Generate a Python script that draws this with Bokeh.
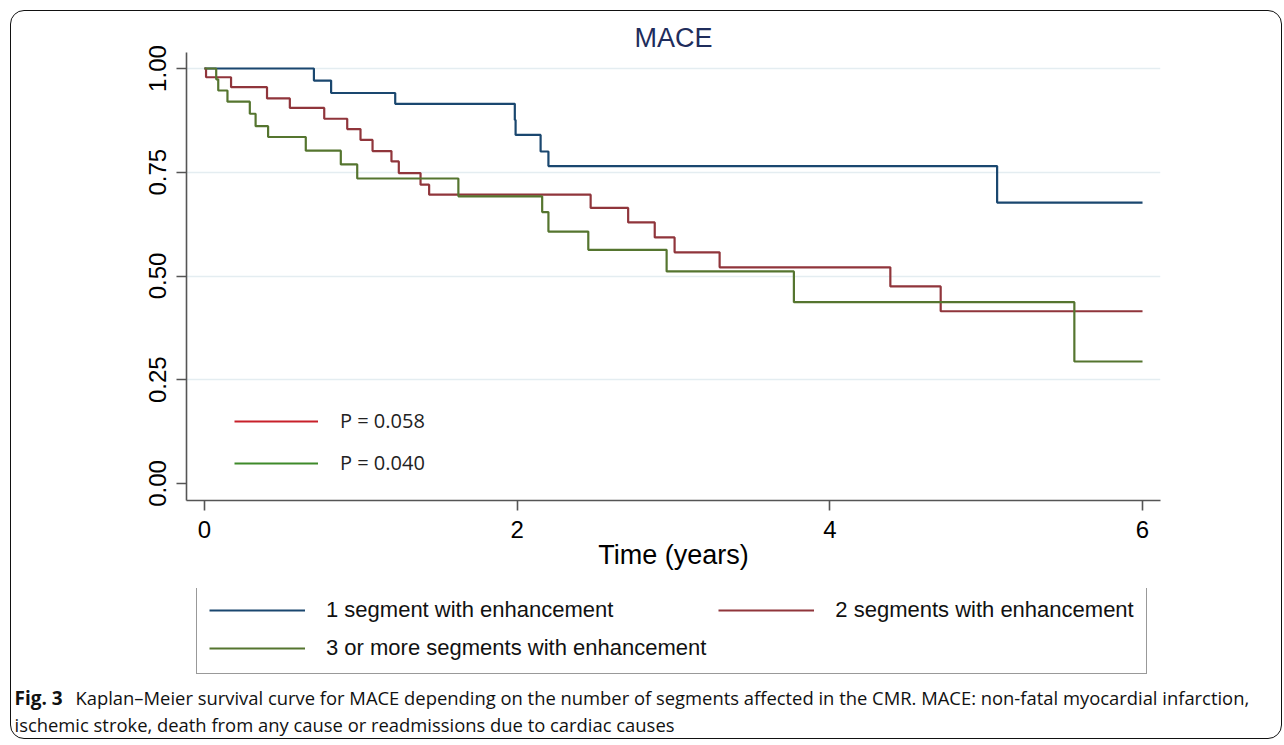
from bokeh.plotting import figure
from bokeh.layouts import column
from bokeh.models import (Legend, LegendItem, Label, FixedTicker,
                          NumeralTickFormatter, Range1d, ColumnDataSource)
from bokeh.embed import file_html
from bokeh.resources import INLINE

# ---- data ----
t_one = [0, 0.70, 0.81, 1.22, 1.985, 1.99, 2.15, 2.20, 5.07, 6.00]
s_one = [1.0, 0.971, 0.941, 0.915, 0.876, 0.840, 0.800, 0.765, 0.677, 0.677]

t_two = [0, 0.01, 0.17, 0.40, 0.546, 0.766, 0.913, 0.998, 1.075, 1.196, 1.243,
         1.382, 1.437, 2.47, 2.71, 2.88, 3.007, 3.295, 4.387, 4.709, 6.0]
s_two = [1.0, 0.979, 0.955, 0.928, 0.905, 0.879, 0.854, 0.828, 0.801, 0.776, 0.748,
         0.720, 0.696, 0.664, 0.629, 0.593, 0.557, 0.521, 0.475, 0.415, 0.415]

t_three = [0, 0.075, 0.088, 0.147, 0.29, 0.327, 0.407, 0.648, 0.872, 0.977, 1.624,
           2.16, 2.20, 2.455, 2.956, 3.77, 5.564, 6.0]
s_three = [1.0, 0.974, 0.947, 0.920, 0.891, 0.861, 0.835, 0.802, 0.769, 0.735, 0.692,
           0.654, 0.607, 0.563, 0.511, 0.437, 0.294, 0.294]

series_labels = ["1 segment with enhancement", "2 segments with enhancement",
                 "3 or more segments with enhancement"]
p_labels = ["P = 0.058", "P = 0.040"]
x_ticks = [0, 2, 4, 6]
y_ticks = [0, 0.25, 0.5, 0.75, 1.0]
title_text = "MACE"
x_title = "Time (years)"
caption_bold = "Fig. 3"
caption_1 = ("Kaplan\u2013Meier survival curve for MACE depending on the number of segments "
             "affected in the CMR. MACE: non-fatal myocardial infarction,")
caption_2 = "ischemic stroke, death from any cause or readmissions due to cardiac causes"

C_BLUE = "#1a476f"
C_RED = "#90353b"
C_GREEN = "#55752f"
C_PRED = "#c8202a"
C_PGREEN = "#3f8a2a"
ARIAL = "Liberation Sans"
NAN = float("nan")

W = 1270
# ------------------------------------------------------------------ plot
p = figure(width=W, height=577, output_backend="svg", toolbar_location=None,
           x_range=Range1d(-0.115, 6.115), y_range=Range1d(-0.041, 1.0386),
           min_border_left=175, min_border_right=121, min_border_top=41,
           min_border_bottom=88)
p.frame_align = False
p.outline_line_color = None
p.background_fill_color = "white"
p.border_fill_color = None

p.title.text = title_text
p.title.align = "center"
p.title.text_font = ARIAL
p.title.text_font_size = "27px"
p.title.text_font_style = "normal"
p.title.text_color = "#1f2d5c"
p.title.standoff = 0

p.xgrid.visible = False
p.ygrid.ticker = FixedTicker(ticks=[0.25, 0.5, 0.75, 1.0])
p.ygrid.grid_line_color = "#e4edf1"
p.ygrid.grid_line_width = 1.6

for ax in (p.xaxis[0], p.yaxis[0]):
    ax.axis_line_color = "#555555"
    ax.axis_line_width = 1.6
    ax.major_tick_line_color = "#555555"
    ax.major_tick_line_width = 1.6
    ax.major_tick_out = 10
    ax.major_tick_in = 0
    ax.minor_tick_line_color = None
    ax.major_label_text_font = ARIAL
    ax.major_label_text_font_size = "24px"
    ax.major_label_text_color = "black"

p.xaxis.ticker = FixedTicker(ticks=x_ticks)
p.xaxis.formatter = NumeralTickFormatter(format="0")
p.xaxis.major_label_standoff = 10
p.xaxis.axis_label = x_title
p.xaxis.axis_label_text_font = ARIAL
p.xaxis.axis_label_text_font_size = "27px"
p.xaxis.axis_label_text_font_style = "normal"
p.xaxis.axis_label_text_color = "black"
p.xaxis.axis_label_standoff = -1

p.yaxis.ticker = FixedTicker(ticks=y_ticks)
p.yaxis.formatter = NumeralTickFormatter(format="0.00")
p.yaxis.major_label_orientation = "vertical"
p.yaxis.major_label_standoff = 10

r1 = p.step(t_one, s_one, mode="after", line_color=C_BLUE, line_width=2.2)
r2 = p.step(t_two, s_two, mode="after", line_color=C_RED, line_width=2.2)
r3 = p.step(t_three, s_three, mode="after", line_color=C_GREEN, line_width=2.2)

# p-value key inside the plot (legend of invisible key renderers)
key_src = ColumnDataSource(data=dict(x=[NAN], y=[NAN]))
d1 = p.line("x", "y", source=key_src, line_color=C_PRED, line_width=2)
d2 = p.line("x", "y", source=key_src, line_color=C_PGREEN, line_width=2)
pleg = Legend(items=[LegendItem(label=p_labels[0], renderers=[d1]),
                     LegendItem(label=p_labels[1], renderers=[d2])],
              location=(48, 24))
pleg.label_text_font = "Open Sans"
pleg.label_text_font_size = "20px"
pleg.label_text_color = "#222222"
pleg.glyph_width = 84
pleg.glyph_height = 24
pleg.label_standoff = 22
pleg.padding = 0
pleg.spacing = 15
pleg.margin = 0
pleg.border_line_color = None
pleg.background_fill_alpha = 0
p.add_layout(pleg, "center")

# ------------------------------------------------------------------ legend + caption
q = figure(width=W, height=150, output_backend="svg", toolbar_location=None,
           x_range=Range1d(0, 1), y_range=Range1d(0, 1),
           x_axis_type=None, y_axis_type=None,
           min_border_left=0, min_border_right=0, min_border_top=0, min_border_bottom=0)
q.frame_align = False
q.outline_line_color = None
q.grid.visible = False
q.background_fill_color = None
q.border_fill_color = None

k1 = q.line("x", "y", source=key_src, line_color=C_BLUE, line_width=2)
k2 = q.line("x", "y", source=key_src, line_color=C_RED, line_width=2)
k3 = q.line("x", "y", source=key_src, line_color=C_GREEN, line_width=2)
leg = Legend(items=[LegendItem(label=series_labels[0], renderers=[k1]),
                    LegendItem(label=series_labels[1], renderers=[k2]),
                    LegendItem(label=series_labels[2], renderers=[k3])],
             orientation="horizontal", ncols=2, location=(185, 64))
leg.label_text_font = ARIAL
leg.label_text_font_size = "22px"
leg.label_text_color = "#111111"
leg.glyph_width = 96
leg.glyph_height = 26
leg.label_standoff = 21
leg.padding = 12
leg.spacing = 12
leg.margin = 0
leg.border_line_color = "#333333"
leg.border_line_width = 1.2
leg.background_fill_color = "white"
leg.background_fill_alpha = 1.0
q.add_layout(leg, "center")

q.add_layout(Label(x=3, y=41, x_units="screen", y_units="screen", text=caption_bold,
                   text_font="Open Sans", text_font_size="19px", text_font_style="bold",
                   text_color="#111111", text_baseline="middle"))
q.add_layout(Label(x=64, y=41, x_units="screen", y_units="screen", text=caption_1,
                   text_font="Open Sans", text_font_size="18.4px",
                   text_color="#111111", text_baseline="middle"))
q.add_layout(Label(x=3, y=14, x_units="screen", y_units="screen", text=caption_2,
                   text_font="Open Sans", text_font_size="18.4px",
                   text_color="#111111", text_baseline="middle"))

layout = column(p, q, spacing=0, margin=(10, 0, 0, 10),
                styles={"border": "1px solid #111111", "border-radius": "14px"})

open("out.html", "w").write(file_html(layout, INLINE))
